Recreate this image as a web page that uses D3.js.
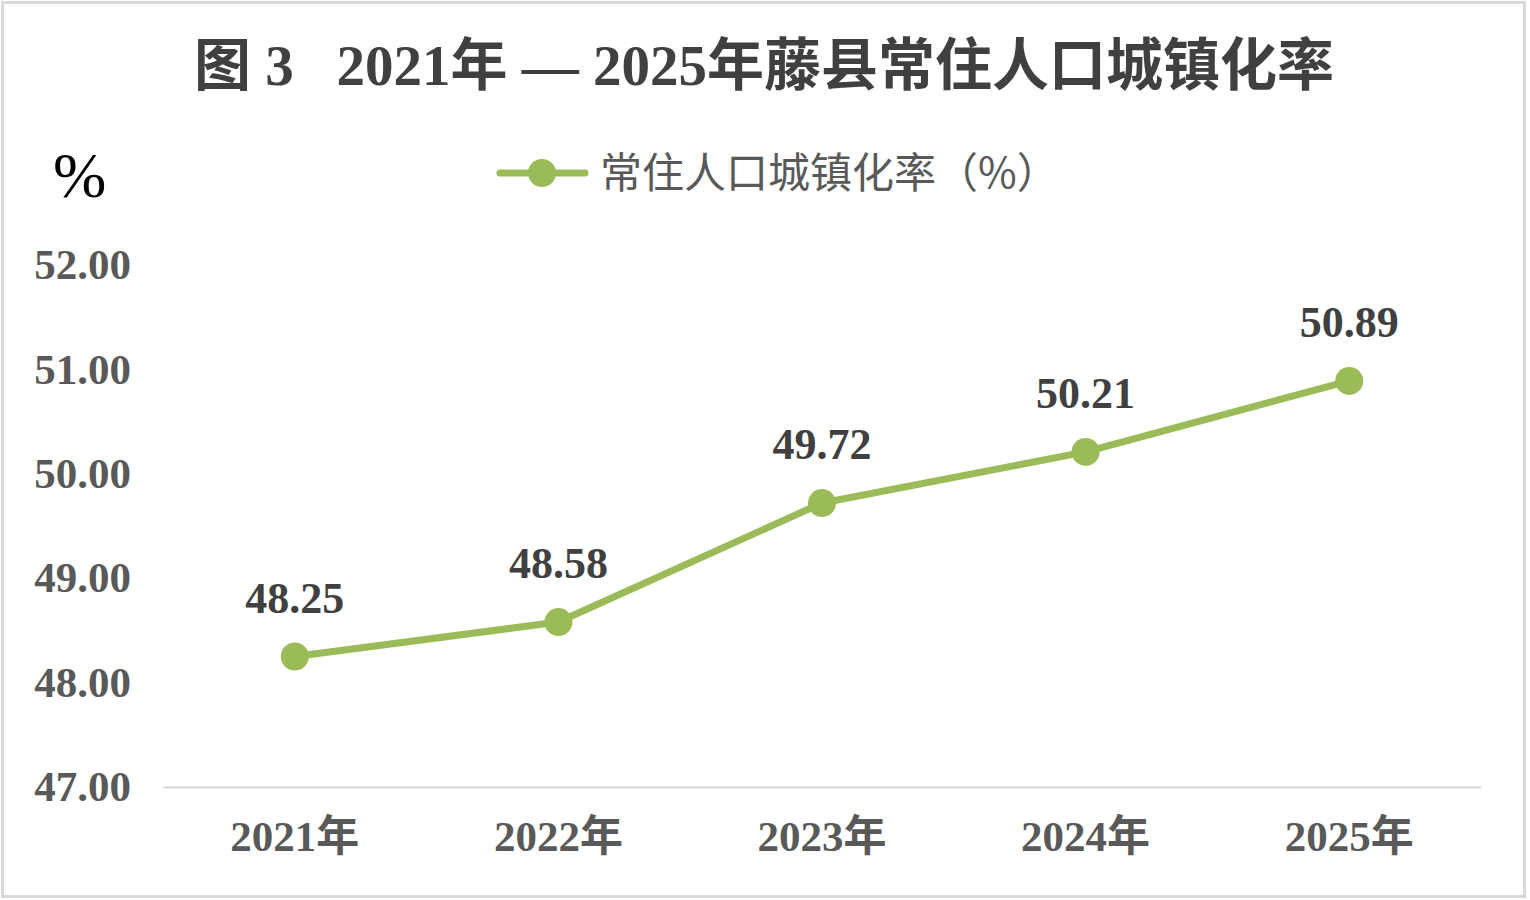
<!DOCTYPE html>
<html>
<head>
<meta charset="utf-8">
<script src="https://cdn.jsdelivr.net/npm/d3@7"></script>
<style>
  body { margin: 0; background: #fff; }
  svg { display: block; }
</style>
</head>
<body>
<div id="chart"></div>
<script>
const years = ["2021年", "2022年", "2023年", "2024年", "2025年"];
const rates = [48.25, 48.58, 49.72, 50.21, 50.89];
const yTicks = [47, 48, 49, 50, 51, 52];

const width = 1530;
const height = 900;
const serif = "'Liberation Serif', 'Times New Roman', 'Noto Sans CJK SC', serif";
const green = "#9bbb59";

const svg = d3.select("#chart")
    .append("svg")
    .attr("width", width)
    .attr("height", height);

// outer frame
svg.append("rect")
    .attr("x", 2.5).attr("y", 2.5)
    .attr("width", width - 8).attr("height", height - 6)
    .attr("fill", "#fff")
    .attr("stroke", "#d9d9d9")
    .attr("stroke-width", 3);

// Scales
const x = d3.scaleBand()
    .domain(years)
    .range([163, 1481]);

const y = d3.scaleLinear()
    .domain([47, 52])
    .range([787, 265]);

// title
svg.append("text")
    .attr("x", 764)
    .attr("y", 85)
    .attr("text-anchor", "middle")
    .style("white-space", "pre")
    .style("font-family", serif)
    .style("font-weight", "bold")
    .style("font-size", "57px")
    .style("fill", "#404040")
    .text("图 3   2021年 — 2025年藤县常住人口城镇化率");

// unit
svg.append("text")
    .attr("x", 53)
    .attr("y", 197)
    .style("font-family", serif)
    .style("font-size", "64px")
    .style("fill", "#000")
    .text("%");

// legend
const legend = svg.append("g");
legend.append("line")
    .attr("x1", 500).attr("x2", 585)
    .attr("y1", 173).attr("y2", 173)
    .attr("stroke", green)
    .attr("stroke-width", 7)
    .attr("stroke-linecap", "round");
legend.append("circle")
    .attr("cx", 542).attr("cy", 173).attr("r", 14)
    .attr("fill", green);
legend.append("text")
    .attr("x", 600)
    .attr("y", 188)
    .style("font-family", "'Noto Sans CJK SC', sans-serif")
    .style("font-size", "42px")
    .style("fill", "#595959")
    .text("常住人口城镇化率（%）");

// Y axis (labels only)
const yAxis = svg.append("g")
    .attr("transform", "translate(131,0)")
    .call(d3.axisLeft(y).tickValues(yTicks).tickFormat(d3.format(".2f")).tickSize(0).tickPadding(0));
yAxis.select(".domain").remove();
yAxis.selectAll("text")
    .style("font-family", serif)
    .style("font-weight", "bold")
    .style("font-size", "43px")
    .style("fill", "#595959");

// X axis
const xAxis = svg.append("g")
    .attr("transform", `translate(0,${y(47)})`)
    .call(d3.axisBottom(x).tickSize(0).tickPadding(33));
xAxis.select(".domain")
    .attr("stroke", "#d9d9d9")
    .attr("stroke-width", 2);
xAxis.selectAll("text")
    .style("font-family", serif)
    .style("font-weight", "bold")
    .style("font-size", "43px")
    .style("fill", "#595959");

// line
const cx = d => x(d.year) + x.bandwidth() / 2;
const data = years.map((year, i) => ({ year, value: rates[i] }));

svg.append("path")
    .datum(data)
    .attr("fill", "none")
    .attr("stroke", green)
    .attr("stroke-width", 7)
    .attr("stroke-linejoin", "round")
    .attr("d", d3.line().x(cx).y(d => y(d.value)));

svg.selectAll(".dot")
    .data(data)
    .enter()
    .append("circle")
    .attr("class", "dot")
    .attr("cx", cx)
    .attr("cy", d => y(d.value))
    .attr("r", 14)
    .attr("fill", green);

svg.selectAll(".label")
    .data(data)
    .enter()
    .append("text")
    .attr("class", "label")
    .attr("x", cx)
    .attr("y", d => y(d.value) - 44)
    .attr("text-anchor", "middle")
    .style("font-family", serif)
    .style("font-weight", "bold")
    .style("font-size", "44px")
    .style("fill", "#404040")
    .text(d => d3.format(".2f")(d.value));
</script>
</body>
</html>
